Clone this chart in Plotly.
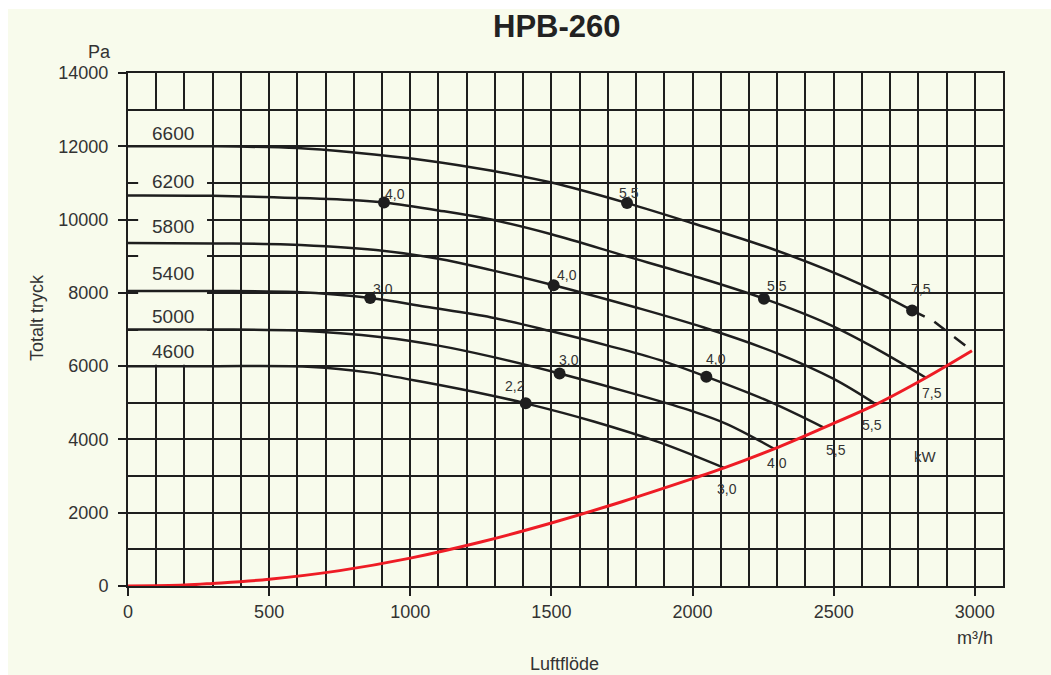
import plotly.graph_objects as go

# ---------------- data ----------------
rpm_labels = ["6600", "6200", "5800", "5400", "5000", "4600"]

flow_6600 = [0, 300, 600, 800, 1050, 1290, 1500, 1768, 2000, 2300, 2600, 2778]
pres_6600 = [12000, 12000, 11950, 11830, 11620, 11330, 11010, 10450, 9900, 9150, 8220, 7520]
flow_6600_ext = [2778, 2850, 2990]
pres_6600_ext = [7520, 7250, 6420]

flow_6200 = [0, 300, 594, 821, 907, 1100, 1287, 1500, 1761, 2000, 2253, 2483, 2650, 2827]
pres_6200 = [10660, 10650, 10590, 10520, 10465, 10250, 10000, 9600, 9010, 8470, 7842, 7142, 6480, 5684]

flow_5800 = [0, 300, 564, 879, 1100, 1287, 1508, 1800, 2040, 2300, 2500, 2650]
pres_5800 = [9360, 9350, 9320, 9170, 8930, 8620, 8209, 7600, 7053, 6350, 5650, 4958]

flow_5400 = [0, 300, 594, 858, 1055, 1287, 1500, 1700, 1882, 2049, 2273, 2465]
pres_5400 = [8050, 8050, 8020, 7860, 7620, 7330, 6950, 6560, 6170, 5711, 5031, 4324]

flow_5000 = [0, 300, 600, 900, 1100, 1287, 1529, 1800, 2000, 2122, 2289]
pres_5000 = [7000, 7000, 6970, 6790, 6560, 6260, 5800, 5230, 4770, 4420, 3745]

flow_4600 = [0, 300, 652, 850, 1052, 1287, 1409, 1650, 1883, 2112]
pres_4600 = [6000, 6000, 5980, 5830, 5560, 5200, 4985, 4490, 3920, 3225]

system_flow = [0, 200, 300, 500, 750, 1000, 1250, 1500, 1750, 2000, 2112, 2289, 2465, 2650, 2827, 2990]
system_pres = [0, 25, 70, 185, 420, 760, 1200, 1720, 2300, 2930, 3225, 3745, 4324, 4958, 5684, 6420]

dot_flow = [1768, 2778, 907, 2253, 1508, 858, 2049, 1529, 1409]
dot_pres = [10450, 7520, 10465, 7842, 8209, 7860, 5711, 5800, 4985]
dot_kw = ["5,5", "7,5", "4,0", "5,5", "4,0", "3,0", "4,0", "3,0", "2,2"]

end_kw = ["7,5", "5,5", "5,5", "4,0", "3,0"]   # at ends of 6200..4600 curves

x_ticks = [0, 500, 1000, 1500, 2000, 2500, 3000]
y_ticks = [0, 2000, 4000, 6000, 8000, 10000, 12000, 14000]

# ---------------- styles ----------------
FONT = "Liberation Sans, Arial, Helvetica, sans-serif"
CREAM = "#f8fbec"
INK = "#1e1e1e"
TXT = "#333333"
W, H = 1051, 675
ML, MR, MT, MB = 128, 48, 73, 89
PW, PH = W - ML - MR, H - MT - MB


def px2paper(px, py):
    """screen pixel -> paper coords"""
    return (px - ML) / PW, (H - MB - py) / PH


fig = go.Figure()

curves = [(flow_6600, pres_6600), (flow_6200, pres_6200), (flow_5800, pres_5800),
          (flow_5400, pres_5400), (flow_5000, pres_5000), (flow_4600, pres_4600)]
for (fx, fy), name in zip(curves, rpm_labels):
    fig.add_trace(go.Scatter(x=fx, y=fy, mode="lines", name=name,
                             line=dict(color=INK, width=2.5, shape="spline", smoothing=1.0),
                             hoverinfo="skip", showlegend=False))

fig.add_trace(go.Scatter(x=flow_6600_ext, y=pres_6600_ext, mode="lines",
                         line=dict(color=INK, width=2.5, dash="14px,11px"),
                         hoverinfo="skip", showlegend=False))

fig.add_trace(go.Scatter(x=system_flow, y=system_pres, mode="lines",
                         line=dict(color="#ee1c25", width=3, shape="spline", smoothing=1.0),
                         hoverinfo="skip", showlegend=False))

fig.add_trace(go.Scatter(x=dot_flow, y=dot_pres, mode="markers",
                         marker=dict(color=INK, size=12),
                         hoverinfo="skip", showlegend=False))

annotations = []
# kW labels at dots
dot_shift = [(2, 10), (9, 21), (11, 9), (13, 13), (13, 10), (13, 9), (10, 18), (9, 13), (-11, 17)]
for fx, fy, t, (sx, sy) in zip(dot_flow, dot_pres, dot_kw, dot_shift):
    annotations.append(dict(x=fx, y=fy, xref="x", yref="y", text=t, showarrow=False,
                            xshift=sx, yshift=sy, font=dict(family=FONT, size=14, color=TXT)))
# kW labels at curve ends
end_shift = [(6, -15), (-4, -21), (12, -22), (3, -14), (3, -21)]
for (fx, fy), t, (sx, sy) in zip(curves[1:], end_kw, end_shift):
    annotations.append(dict(x=fx[-1], y=fy[-1], xref="x", yref="y", text=t, showarrow=False,
                            xshift=sx, yshift=sy, font=dict(family=FONT, size=14, color=TXT)))
annotations.append(dict(x=2824, y=3543, xref="x", yref="y", text="kW", showarrow=False,
                        font=dict(family=FONT, size=15, color=TXT)))

# rpm labels
rpm_y = [12347, 11035, 9810, 8537, 7360, 6395]
for t, yy in zip(rpm_labels, rpm_y):
    annotations.append(dict(x=161, y=yy, xref="x", yref="y", text=t, showarrow=False,
                            font=dict(family=FONT, size=19, color=TXT)))


def add_px_text(text, px, py, size, bold=False, angle=0, color=TXT):
    x, y = px2paper(px, py)
    annotations.append(dict(x=x, y=y, xref="paper", yref="paper",
                            text=("<b>%s</b>" % text) if bold else text,
                            showarrow=False, textangle=angle, xanchor="center", yanchor="middle",
                            font=dict(family=FONT, size=size, color=color)))


add_px_text("HPB-260", 557, 26, 31, bold=True, color="#222222")
add_px_text("Pa", 99, 52, 18)
add_px_text("m³/h", 975, 638, 18)
add_px_text("Luftflöde", 564, 664, 18)
add_px_text("Totalt tryck", 37, 318, 18, angle=-90)

# white page margin at top and left
tx0, ty0 = px2paper(0, 0)
tx1, ty1 = px2paper(W, 9)
lx0, ly0 = px2paper(0, 0)
lx1, ly1 = px2paper(8, H)

shapes = [
    dict(type="rect", xref="paper", yref="paper", x0=tx0, x1=tx1, y0=ty1, y1=ty0,
         fillcolor="white", line=dict(width=0), layer="above"),
    dict(type="rect", xref="paper", yref="paper", x0=lx0, x1=lx1, y0=ly1, y1=ly0,
         fillcolor="white", line=dict(width=0), layer="above"),
    # label box hiding the grid behind rpm labels
    dict(type="rect", xref="x", yref="y", x0=36, x1=280, y0=6040, y1=12960,
         fillcolor=CREAM, line=dict(width=0), layer="between"),
]

axis_common = dict(showgrid=True, gridcolor=INK, gridwidth=2, ticks="outside", ticklen=8,
                   tickwidth=2, tickcolor=INK, showline=True, linecolor=INK, linewidth=2,
                   mirror=True, zeroline=False, fixedrange=True,
                   tickfont=dict(family=FONT, size=18, color=TXT))

fig.update_layout(
    width=W, height=H,
    margin=dict(l=ML, r=MR, t=MT, b=MB),
    paper_bgcolor=CREAM, plot_bgcolor=CREAM,
    xaxis=dict(range=[0, 3100], tickvals=x_ticks, ticktext=[str(v) for v in x_ticks],
               minor=dict(dtick=100, tick0=0, showgrid=True, gridcolor=INK, gridwidth=2, ticks=""),
               **axis_common),
    yaxis=dict(range=[0, 14000], tickvals=y_ticks, ticktext=[str(v) for v in y_ticks],
               ticklabelstandoff=6,
               minor=dict(dtick=1000, tick0=0, showgrid=True, gridcolor=INK, gridwidth=2, ticks=""),
               **axis_common),
    annotations=annotations, shapes=shapes, showlegend=False,
)

fig.write_html("out.html", config={"displayModeBar": False},
               post_script="document.body.style.margin='0';"
                           "document.documentElement.style.overflow='hidden';"
                           "document.body.style.overflow='hidden';")
